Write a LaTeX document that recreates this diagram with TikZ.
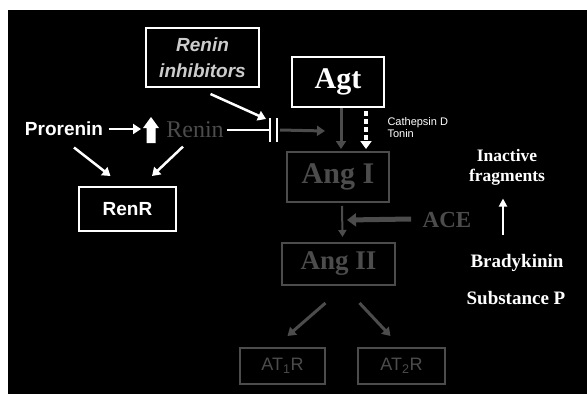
\documentclass[tikz,border=0pt]{standalone}
\usepackage{fontspec}
\setmainfont{Liberation Serif}
\setsansfont{Liberation Sans}
\usepackage{tikz}
\usetikzlibrary{arrows.meta,calc,positioning}
\definecolor{grisfonce}{HTML}{4C4C4C}
\definecolor{grisclair}{HTML}{CCCCCC}

\begin{document}
\begin{tikzpicture}[x=1pt,y=-1pt,
		boite/.style={draw=white, line width=2pt, text=white, inner sep=0pt},
		grisboite/.style={draw=grisfonce, line width=2pt, text=grisfonce, inner sep=0pt},
		fleche/.style={draw=white, line width=2.5pt, -{Triangle[length=8pt,width=10pt]}},
		grisfleche/.style={draw=grisfonce, line width=3pt, -{Triangle[length=8pt,width=10pt]}},
		titre/.style={font=\bfseries\fontsize{30}{30}\selectfont},
		texte/.style={text=white, font=\bfseries\fontsize{19}{19}\selectfont},
		]
		
		% Le fond
		\useasboundingbox (0,0) rectangle (587,394);
		\fill[white] (0,0) rectangle (587,394);
		\fill[black] (8,10) rectangle (587,394);
		
		% Les boites
		\node[boite, minimum width=113pt, minimum height=59pt, align=center, text=grisclair,
			font=\sffamily\bfseries\itshape\fontsize{19}{26}\selectfont] (inh) at (202.5,57.5) {Renin\\inhibitors};
		\node[boite, titre, minimum width=92pt, minimum height=50pt] (Agt) at (338,82) {Agt};
		\node[grisboite, titre, minimum width=102pt, minimum height=50pt] (AngI) at (338,177) {Ang I};
		\node[grisboite, font=\bfseries\fontsize{27}{27}\selectfont, minimum width=113pt, minimum height=42pt] (AngII) at (338.5,264) {Ang II};
		\node[grisboite, font=\sffamily\fontsize{18}{18}\selectfont, minimum width=85pt, minimum height=36pt] (AT1R) at (282.5,366) {AT\textsubscript{1}R};
		\node[grisboite, font=\sffamily\fontsize{18}{18}\selectfont, minimum width=87pt, minimum height=36pt] (AT2R) at (401.5,366) {AT\textsubscript{2}R};
		\node[boite, font=\sffamily\bfseries\fontsize{19}{19}\selectfont, minimum width=97pt, minimum height=44pt] (RenR) at (127.5,209) {RenR};
		
		% Les textes
		\node[texte, font=\sffamily\bfseries\fontsize{19}{19}\selectfont] (pro) at (64,129) {Prorenin};
		\node[text=grisfonce, font=\fontsize{24}{24}\selectfont] (renin) at (195,130) {Renin};
		\node[text=grisfonce, font=\bfseries\fontsize{23}{23}\selectfont] (ACE) at (447,220) {ACE};
		\node[anchor=west, text=white, align=left, font=\sffamily\fontsize{11}{12}\selectfont] (cath) at (384,128) {Cathepsin D\\Tonin};
		\node[texte, align=center, font=\bfseries\fontsize{17.5}{20}\selectfont] (inact) at (507,167) {Inactive\\fragments};
		\node[texte] (brady) at (517,263) {Bradykinin};
		\node[texte] (subP) at (516,298) {Substance P};
		
		% La grosse fleche
		\coordinate (haut) at (151,130);
		\fill[white] ($(haut)+(-4.5,13)$) -- ($(haut)+(-4.5,-2)$) -- ($(haut)+(-8,-2)$) -- ($(haut)+(0,-13)$)
			-- ($(haut)+(8,-2)$) -- ($(haut)+(4.5,-2)$) -- ($(haut)+(4.5,13)$) -- cycle;
		
		% Le blocage
		\coordinate (blk) at (270,130);
		\draw[white, line width=2pt] (renin.east) -- (blk);
		\draw[white, line width=2.5pt] ($(blk)+(0,-12)$) -- ($(blk)+(0,12)$);
		\draw[white, line width=2.5pt] ($(blk)+(7,-12)$) -- ($(blk)+(7,12)$);
		
		% Les fleches
		\draw[fleche] ($(pro.east)+(2,0)$) to ($(haut)+(-10,-1)$);
		\draw[fleche] ($(pro.south)+(10,8)$) to ($(RenR.north)+(-17,-10)$);
		\draw[fleche] ($(renin.south)+(-12,5)$) to ($(RenR.north)+(24.5,-10)$);
		\draw[fleche] ($(inh.south)+(8,6)$) to ($(blk)+(-4,-11)$);
		\draw[grisfleche] ($(blk)+(10,0)$) to ($(Agt.south)+(-13,23)$);
		\draw[grisfleche] ($(Agt.south)+(3,0)$) to ($(AngI.north)+(3,-2)$);
		\draw[white, line width=4pt, dash pattern=on 5pt off 3pt, -{Triangle[length=8pt,width=11pt]}]
			($(Agt.south)+(28,3)$) to ($(AngI.north)+(28,-2)$);
		\draw[grisfleche, line width=2pt, -{Triangle[length=7pt,width=8pt]}] ($(AngI.south)+(4,3)$) to ($(AngII.north)+(4,-5)$);
		\draw[grisfleche, line width=5pt, -{Triangle[length=9pt,width=13pt]}] ($(ACE.west)+(-8,-1)$) to ($(AngI.south)+(9,17)$);
		\draw[fleche, line width=2pt, -{Triangle[length=8pt,width=8pt]}] ($(brady.north)+(-14,-16)$) to ($(inact.south)+(-4,10)$);
		\draw[grisfleche] ($(AngII.south)+(-13,17)$) to ($(AT1R.north)+(5,-11)$);
		\draw[grisfleche] ($(AngII.south)+(21,17)$) to ($(AT2R.north)+(-11,-11)$);
	\end{tikzpicture}
\end{document}
